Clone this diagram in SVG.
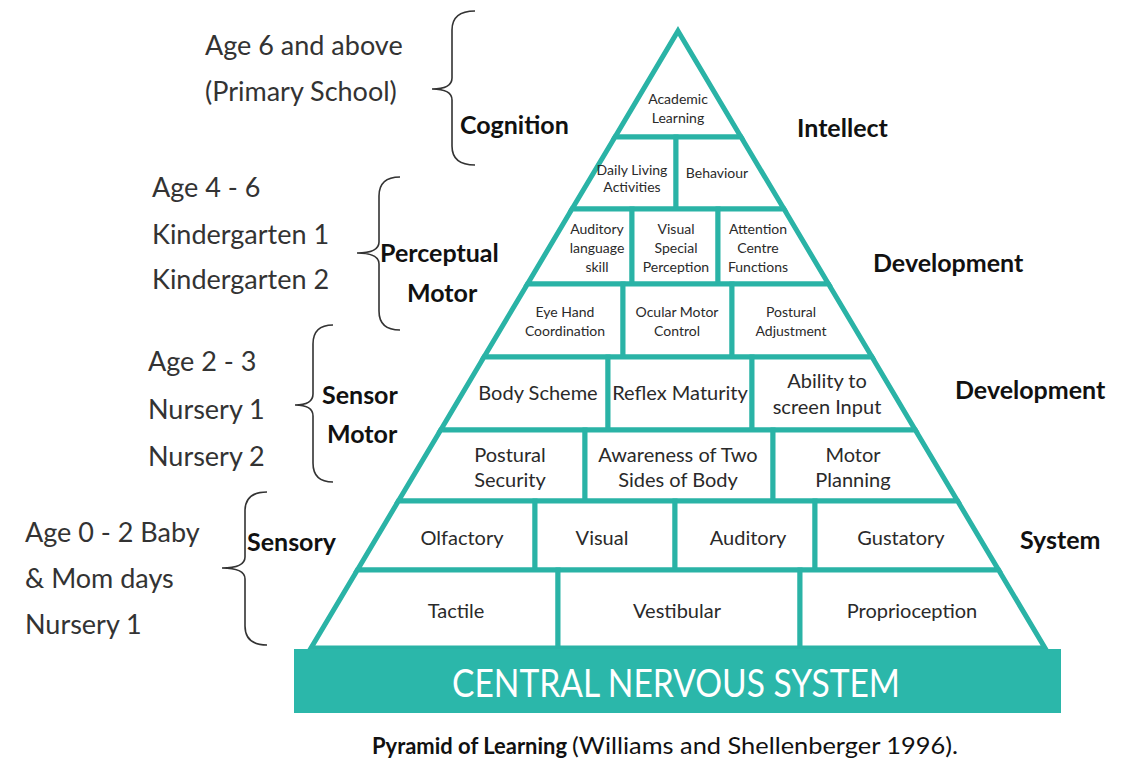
<svg xmlns="http://www.w3.org/2000/svg" width="1122" height="762" viewBox="0 0 1122 762">
<style>
.cell{fill:#fff;stroke:#2ab3a6;stroke-width:5;stroke-linejoin:miter}
.t{font-family:Lato,"Open Sans","DejaVu Sans",sans-serif;fill:#2a2a2a;text-anchor:middle}
.s{font-size:14px}
.m{font-size:20px}
.lab{font-family:Lato,"Open Sans","DejaVu Sans",sans-serif;fill:#333;font-size:27px}
.b{font-family:Lato,"Open Sans","DejaVu Sans",sans-serif;fill:#111;font-size:25px;font-weight:bold}
.brace{fill:none;stroke:#333;stroke-width:1.6}
</style>
<rect width="1122" height="762" fill="#fff"/>
<g id="braces">
<path class="brace" d="M475,11 Q452,11 452,30 L452,78 Q452,89 432,89 Q452,89 452,100 L452,146 Q452,165 475,165"/>
<path class="brace" d="M400,177 Q379,177 379,196 L379,242 Q379,253 357,253 Q379,253 379,264 L379,311 Q379,330 400,330"/>
<path class="brace" d="M333,325 Q313,325 313,344 L313,394 Q313,405 295,405 Q313,405 313,416 L313,463 Q313,482 333,482"/>
<path class="brace" d="M267,492 Q245,492 245,511 L245,557 Q245,568 222,568 Q245,568 245,579 L245,626 Q245,645 267,645"/>
</g>
<g id="left-labels">
<text class="lab" x="205" y="55">Age 6 and above</text>
<text class="lab" x="205" y="101">(Primary School)</text>
<text class="b" x="460" y="134">Cognition</text>
<text class="lab" x="152" y="197">Age 4 - 6</text>
<text class="lab" x="152" y="244">Kindergarten 1</text>
<text class="lab" x="152" y="289">Kindergarten 2</text>
<text class="b" x="380" y="262">Perceptual</text>
<text class="b" x="407" y="302">Motor</text>
<text class="lab" x="148" y="371">Age 2 - 3</text>
<text class="lab" x="148" y="419">Nursery 1</text>
<text class="lab" x="148" y="466">Nursery 2</text>
<text class="b" x="322" y="404">Sensor</text>
<text class="b" x="327" y="443">Motor</text>
<text class="lab" x="25" y="542">Age 0 - 2 Baby</text>
<text class="lab" x="25" y="588">&amp; Mom days</text>
<text class="lab" x="25" y="634">Nursery 1</text>
<text class="b" x="247" y="551">Sensory</text>
</g>
<g id="right-labels">
<text class="b" x="797" y="137">Intellect</text>
<text class="b" x="873" y="272">Development</text>
<text class="b" x="955" y="399">Development</text>
<text class="b" x="1020" y="549">System</text>
</g>
<g id="row1">
<g id="academic"><polygon class="cell" points="678,31 741,137 615,137"/><text class="t s" x="678" y="104">Academic</text><text class="t s" x="678" y="123">Learning</text></g>
</g>
<g id="row2">
<g id="daily"><polygon class="cell" points="615,137 676,137 676,209 572,209"/><text class="t s" x="632" y="175">Daily Living</text><text class="t s" x="632" y="192">Activities</text></g>
<g id="behaviour"><polygon class="cell" points="676,137 741,137 784,209 676,209"/><text class="t s" x="717" y="178">Behaviour</text></g>
</g>
<g id="row3">
<g id="auditory-lang"><polygon class="cell" points="572,209 632,209 632,284 527.5,284"/><text class="t s" x="597" y="234">Auditory</text><text class="t s" x="597" y="253">language</text><text class="t s" x="597" y="272">skill</text></g>
<g id="visual-special"><polygon class="cell" points="632,209 718,209 718,284 632,284"/><text class="t s" x="676" y="234">Visual</text><text class="t s" x="676" y="253">Special</text><text class="t s" x="676" y="272">Perception</text></g>
<g id="attention"><polygon class="cell" points="718,209 784,209 828.5,284 718,284"/><text class="t s" x="758" y="234">Attention</text><text class="t s" x="758" y="253">Centre</text><text class="t s" x="758" y="272">Functions</text></g>
</g>
<g id="row4">
<g id="eyehand"><polygon class="cell" points="527.5,284 623,284 623,357 484,357"/><text class="t s" x="565" y="317">Eye Hand</text><text class="t s" x="565" y="336">Coordination</text></g>
<g id="ocular"><polygon class="cell" points="623,284 732,284 732,357 623,357"/><text class="t s" x="677" y="317">Ocular Motor</text><text class="t s" x="677" y="336">Control</text></g>
<g id="postural-adj"><polygon class="cell" points="732,284 828.5,284 872,357 732,357"/><text class="t s" x="791" y="317">Postural</text><text class="t s" x="791" y="336">Adjustment</text></g>
</g>
<g id="row5">
<g id="body-scheme"><polygon class="cell" points="484,357 608,357 608,430 440.7,430"/><text class="t m" x="538" y="400">Body Scheme</text></g>
<g id="reflex"><polygon class="cell" points="608,357 752,357 752,430 608,430"/><text class="t m" x="680" y="400">Reflex Maturity</text></g>
<g id="ability"><polygon class="cell" points="752,357 872,357 915.3,430 752,430"/><text class="t m" x="827" y="388">Ability to</text><text class="t m" x="827" y="414">screen Input</text></g>
</g>
<g id="row6">
<g id="postural-sec"><polygon class="cell" points="440.7,430 585,430 585,501 398.4,501"/><text class="t m" x="510" y="462">Postural</text><text class="t m" x="510" y="487">Security</text></g>
<g id="awareness"><polygon class="cell" points="585,430 773,430 773,501 585,501"/><text class="t m" x="678" y="462">Awareness of Two</text><text class="t m" x="678" y="487">Sides of Body</text></g>
<g id="motor-planning"><polygon class="cell" points="773,430 915.3,430 957.6,501 773,501"/><text class="t m" x="853" y="462">Motor</text><text class="t m" x="853" y="487">Planning</text></g>
</g>
<g id="row7">
<g id="olfactory"><polygon class="cell" points="398.4,501 535,501 535,570 357.4,570"/><text class="t m" x="462" y="545">Olfactory</text></g>
<g id="visual"><polygon class="cell" points="535,501 675,501 675,570 535,570"/><text class="t m" x="602" y="545">Visual</text></g>
<g id="auditory"><polygon class="cell" points="675,501 815,501 815,570 675,570"/><text class="t m" x="748" y="545">Auditory</text></g>
<g id="gustatory"><polygon class="cell" points="815,501 957.6,501 998.6,570 815,570"/><text class="t m" x="901" y="545">Gustatory</text></g>
</g>
<g id="row8">
<g id="tactile"><polygon class="cell" points="357.4,570 558,570 558,648 311,648"/><text class="t m" x="456" y="618">Tactile</text></g>
<g id="vestibular"><polygon class="cell" points="558,570 800,570 800,648 558,648"/><text class="t m" x="677" y="618">Vestibular</text></g>
<g id="proprioception"><polygon class="cell" points="800,570 998.6,570 1045,648 800,648"/><text class="t m" x="912" y="618">Proprioception</text></g>
</g>
<g id="cns">
<rect x="294" y="649" width="767" height="64" fill="#2bb7aa"/>
<text x="676" y="697" font-family="Lato,'Open Sans',sans-serif" font-size="39" fill="#fff" text-anchor="middle" textLength="448" lengthAdjust="spacingAndGlyphs">CENTRAL NERVOUS SYSTEM</text>
</g>
<g id="caption">
<text x="372" y="754" font-family="Lato,'Open Sans',sans-serif" font-size="22" fill="#111" font-weight="bold" textLength="195" lengthAdjust="spacingAndGlyphs">Pyramid of Learning</text>
<text x="572" y="754" font-family="Lato,'Open Sans',sans-serif" font-size="23" fill="#111" textLength="386" lengthAdjust="spacingAndGlyphs">(Williams and Shellenberger 1996).</text>
</g>
</svg>
